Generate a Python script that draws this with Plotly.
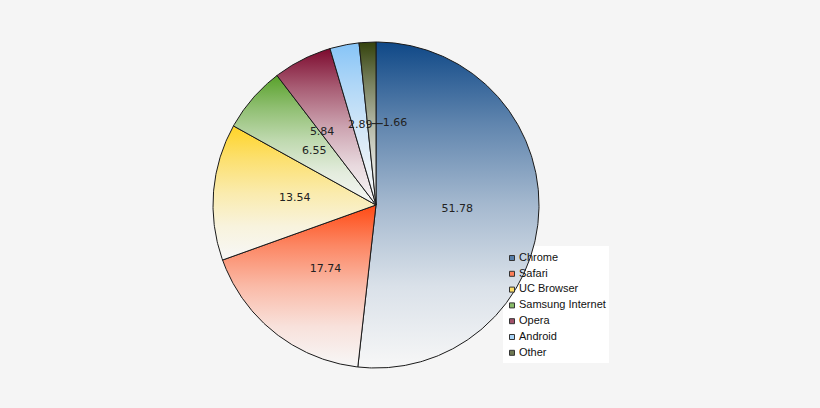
import numpy as np
import plotly.graph_objects as go

browsers = ["Chrome", "Safari", "UC Browser", "Samsung Internet", "Opera", "Android", "Other"]
shares = [51.78, 17.74, 13.54, 6.55, 5.84, 2.89, 1.66]
colors = ["#0f4887", "#ff4a14", "#ffd427", "#58a12a", "#7d0a2e", "#86c4f7", "#34420c"]

BG = "#f5f5f5"
W, H = 820, 408
CX, CY, R = 376, 205, 163  # pie centre / radius in pixels (layout)
label_nudge_px = {"Opera": (-17, 0)}  # label placement tweak (layout only)


def px2data(px, py):
    return (px - CX) / R, (CY - py) / R


def mix(c, f, base=(247, 247, 247)):
    r, g, b = int(c[1:3], 16), int(c[3:5], 16), int(c[5:7], 16)
    return "rgb(%d,%d,%d)" % tuple(round(bb + (cc - bb) * f) for cc, bb in zip((r, g, b), base))


xr = [px2data(0, 0)[0], px2data(W, 0)[0]]
yr = [px2data(0, H)[1], px2data(0, 0)[1]]

fig = go.Figure()
total = sum(shares)
start = 0.0
mids = []
stops = [0, 0.25, 0.5, 0.75, 1]
for name, v, c in zip(browsers, shares, colors):
    a0 = start / total * 2 * np.pi
    a1 = (start + v) / total * 2 * np.pi
    t = np.linspace(a0, a1, max(4, int(v * 6)))
    xs = np.concatenate([[0], np.sin(t), [0]])
    ys = np.concatenate([[0], np.cos(t), [0]])
    fig.add_trace(go.Scatter(
        x=xs, y=ys, mode="lines", fill="toself", name=name,
        line=dict(color="#1a1a1a", width=1),
        fillgradient=dict(type="vertical",
                          colorscale=[[s, mix(c, s ** 1.5)] for s in stops]),
        hoverinfo="name", showlegend=False,
    ))
    mids.append((a0 + a1) / 2)
    start += v

# value labels at half radius
lx, ly = [], []
for name, m in zip(browsers, mids):
    dx, dy = label_nudge_px.get(name, (0, 0))
    lx.append(0.5 * np.sin(m) + dx / R)
    ly.append(0.5 * np.cos(m) - dy / R)
txt = [f"{v:.2f}" for v in shares]
off = 11 / R
fig.add_trace(go.Scatter(
    x=[lx[-1], lx[-1] + off], y=[ly[-1], ly[-1]], mode="lines",
    line=dict(color="#1a1a1a", width=1), showlegend=False, hoverinfo="skip"))
tx = lx[:-1] + [lx[-1] + off]
tpos = ["middle center"] * (len(txt) - 1) + ["middle right"]
fig.add_trace(go.Scatter(
    x=tx, y=ly, mode="text", text=txt, textposition=tpos,
    textfont=dict(family="DejaVu Sans", size=11, color="#222222"),
    showlegend=False, hoverinfo="skip"))

# legend box (drawn manually to match compact square-icon legend)
lgy = [px2data(0, 258 + 15.8 * i)[1] for i in range(len(browsers))]
fig.add_trace(go.Scatter(
    x=[px2data(512, 0)[0]] * len(browsers), y=lgy, mode="markers",
    marker=dict(symbol="square", size=5, color=[mix(c, 0.7) for c in colors],
                line=dict(color="#333333", width=1)),
    showlegend=False, hoverinfo="skip"))
fig.add_trace(go.Scatter(
    x=[px2data(519, 0)[0]] * len(browsers), y=lgy, mode="text", text=browsers,
    textposition="middle right",
    textfont=dict(family="Liberation Sans", size=11, color="#111111"),
    showlegend=False, hoverinfo="skip"))

fig.update_layout(
    width=W, height=H, margin=dict(l=0, r=0, t=0, b=0),
    paper_bgcolor=BG, plot_bgcolor=BG,
    xaxis=dict(range=xr, visible=False, fixedrange=True),
    yaxis=dict(range=yr, visible=False, fixedrange=True),
    showlegend=False,
    shapes=[dict(type="rect", xref="paper", yref="paper",
                 x0=503 / W, x1=609 / W, y0=1 - 363 / H, y1=1 - 246 / H,
                 fillcolor="#ffffff", line=dict(width=0), layer="below")],
)
fig.write_html("out.html", config={"displayModeBar": False},
               post_script="document.body.style.margin='0px';")
